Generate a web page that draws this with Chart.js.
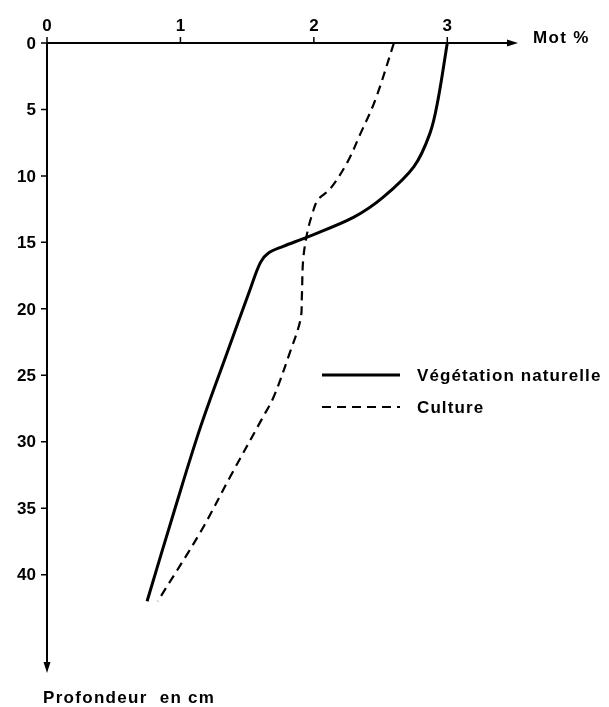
<!DOCTYPE html>
<html>
<head>
<meta charset="utf-8">
<script src="https://cdn.jsdelivr.net/npm/chart.js@4"></script>
<style>
  html, body { margin: 0; padding: 0; background: #fff; }
  #wrap { width: 609px; height: 707px; position: relative; }
</style>
</head>
<body>
<div id="wrap"><canvas id="profil"></canvas></div>
<script>
// ===================================
// DATA
// ===================================

// Végétation naturelle (trait plein)
const depthNat = [0, 4.3, 6.8, 9.3, 11.6, 13.1, 14.6, 15.3, 15.8, 16.5, 18.6, 23.3, 28.9, 35, 42];
const motNat = [3.0, 2.93, 2.87, 2.75, 2.52, 2.30, 1.95, 1.77, 1.66, 1.60, 1.52, 1.35, 1.15, 0.96, 0.75];

// Culture (tirets)
const depthCult = [0, 4.3, 6.8, 9.0, 11.0, 11.8, 12.8, 14.3, 16.3, 19.1, 20.8, 23.3, 26.6, 28.3, 32.5, 36.8, 42];
const motCult = [2.60, 2.46, 2.35, 2.25, 2.12, 2.03, 1.99, 1.95, 1.92, 1.91, 1.90, 1.82, 1.70, 1.61, 1.38, 1.15, 0.83];

const xTicks = [0, 1, 2, 3];
const yTicks = [0, 5, 10, 15, 20, 25, 30, 35, 40];

const seriesLabels = ['Végétation naturelle', 'Culture'];
const xTitle = 'Mot %';
const yTitle = 'Profondeur  en cm';

const FONT = 'bold 17px "Liberation Sans", Arial, sans-serif';

function toPoints(xs, ys) {
    return xs.map((v, i) => ({ x: v, y: ys[i] }));
}

// ===================================
// AXES + LEGEND (drawn on library scales)
// ===================================

const axesPlugin = {
    id: 'axesPlugin',
    beforeDatasetsDraw(chart) {
        const ctx = chart.ctx;
        const xs = chart.scales.x;
        const ys = chart.scales.y;
        const x0 = xs.getPixelForValue(0);
        const y0 = ys.getPixelForValue(0);
        const xEnd = xs.right;
        const yEnd = ys.bottom;

        ctx.save();
        ctx.strokeStyle = '#000';
        ctx.fillStyle = '#000';
        ctx.lineWidth = 2;

        // axis lines
        ctx.beginPath();
        ctx.moveTo(x0, y0);
        ctx.lineTo(xEnd - 8, y0);
        ctx.moveTo(x0, y0);
        ctx.lineTo(x0, yEnd - 8);
        ctx.stroke();

        // arrow heads
        ctx.beginPath();
        ctx.moveTo(xEnd, y0);
        ctx.lineTo(xEnd - 11, y0 - 3.5);
        ctx.lineTo(xEnd - 11, y0 + 3.5);
        ctx.closePath();
        ctx.fill();
        ctx.beginPath();
        ctx.moveTo(x0, yEnd);
        ctx.lineTo(x0 - 3.5, yEnd - 11);
        ctx.lineTo(x0 + 3.5, yEnd - 11);
        ctx.closePath();
        ctx.fill();

        // ticks
        ctx.lineWidth = 1.5;
        ctx.beginPath();
        xTicks.forEach(v => {
            const px = xs.getPixelForValue(v);
            ctx.moveTo(px, y0);
            ctx.lineTo(px, y0 - 6);
        });
        yTicks.forEach(v => {
            const py = ys.getPixelForValue(v);
            ctx.moveTo(x0, py);
            ctx.lineTo(x0 - 6, py);
        });
        ctx.stroke();

        // tick labels
        ctx.font = FONT;
        ctx.textAlign = 'center';
        ctx.textBaseline = 'bottom';
        xTicks.forEach(v => {
            ctx.fillText(String(v), xs.getPixelForValue(v), y0 - 8);
        });
        ctx.textAlign = 'right';
        ctx.textBaseline = 'middle';
        yTicks.forEach(v => {
            ctx.fillText(String(v), x0 - 11, ys.getPixelForValue(v) + 1);
        });

        // axis titles
        ctx.letterSpacing = '1.3px';
        ctx.textAlign = 'left';
        ctx.fillText(xTitle, xEnd + 15, y0 - 5);
        ctx.fillText(yTitle, x0 - 4, yEnd + 25);

        // legend
        const legendX = 322;
        const legendY = [375, 407];
        chart.data.datasets.forEach((ds, i) => {
            ctx.save();
            ctx.lineWidth = ds.borderWidth;
            ctx.setLineDash(ds.borderDash || []);
            ctx.beginPath();
            ctx.moveTo(legendX, legendY[i]);
            ctx.lineTo(legendX + 78, legendY[i]);
            ctx.stroke();
            ctx.restore();
            ctx.letterSpacing = '1.1px';
            ctx.fillText(ds.label, legendX + 95, legendY[i] + 1);
        });
        ctx.restore();
    }
};

// ===================================
// CHART
// ===================================

new Chart(document.getElementById('profil'), {
    type: 'scatter',
    data: {
        datasets: [{
            label: seriesLabels[0],
            data: toPoints(motNat, depthNat),
            showLine: true,
            borderColor: '#000',
            borderWidth: 3,
            pointRadius: 0,
            tension: 0.35
        }, {
            label: seriesLabels[1],
            data: toPoints(motCult, depthCult),
            showLine: true,
            borderColor: '#000',
            borderWidth: 2.2,
            borderDash: [9, 6],
            pointRadius: 0,
            tension: 0.35
        }]
    },
    options: {
        responsive: true,
        maintainAspectRatio: false,
        animation: false,
        layout: { padding: { left: 47, top: 43, right: 91, bottom: 34 } },
        plugins: {
            legend: { display: false },
            tooltip: { enabled: false }
        },
        scales: {
            x: { type: 'linear', min: 0, max: 3.53, display: false },
            y: { type: 'linear', reverse: true, min: 0, max: 47.4, display: false }
        }
    },
    plugins: [axesPlugin]
});
</script>
</body>
</html>
